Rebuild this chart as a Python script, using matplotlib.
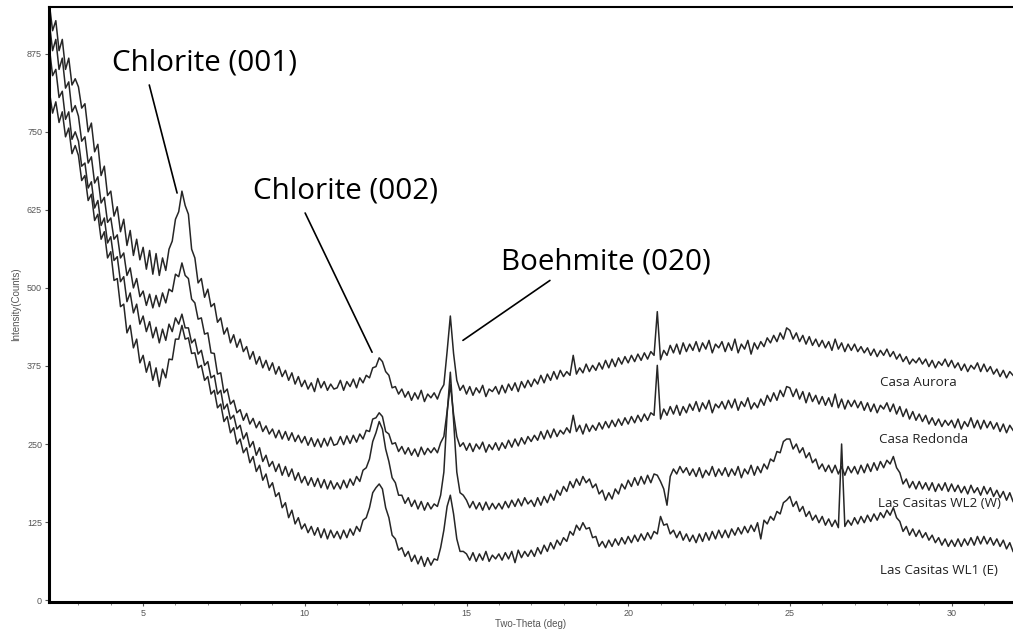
import numpy as np
import matplotlib
matplotlib.use("Agg")
import matplotlib.pyplot as plt
from matplotlib.ticker import MultipleLocator

# 2-theta grid of the scans (deg), 0.1 deg step from 2.1 to 31.9
two_theta = np.arange(21, 320) / 10.0

# Intensity (counts), one row per degree
casa_aurora = [
    955, 912, 928, 880, 898, 850, 868, 825, 835,
    822, 788, 795, 750, 764, 718, 730, 680, 695, 648,
    655, 615, 630, 590, 610, 568, 592, 552, 578, 545,
    565, 530, 560, 522, 555, 520, 548, 528, 562, 575,
    610, 622, 655, 632, 618, 562, 548, 508, 515, 485,
    498, 470, 475, 445, 452, 426, 436, 412, 425, 405,
    418, 398, 406, 386, 398, 378, 390, 372, 384, 368,
    380, 362, 374, 358, 368, 352, 364, 346, 358, 342,
    352, 338, 348, 334, 355, 340, 350, 336, 346, 338,
    340, 352, 336, 350, 342, 354, 340, 356, 348, 360,
    356, 372, 374, 388, 382, 366, 360, 340, 342, 330,
    338, 325, 334, 320, 332, 322, 336, 318, 330, 324,
    332, 322, 336, 345, 398, 455, 395, 352, 336, 344,
    330, 342, 328, 340, 332, 344, 326, 338, 334, 342,
    330, 344, 332, 346, 336, 348, 334, 350, 340, 352,
    342, 354, 346, 360, 348, 362, 352, 366, 354, 368,
    358, 366, 360, 392, 362, 372, 364, 378, 366, 376,
    368, 380, 370, 384, 372, 386, 374, 388, 378, 390,
    380, 392, 382, 394, 384, 396, 386, 398, 392, 462,
    385, 400, 392, 408, 396, 410, 394, 412, 398, 410,
    400, 414, 398, 412, 402, 416, 396, 410, 404, 414,
    398, 412, 400, 418, 396, 410, 402, 416, 394, 412,
    402, 414, 406, 420, 412, 424, 414, 428, 418, 436,
    432, 418, 428, 414, 424, 410, 422, 408, 418, 406,
    416, 404, 414, 400, 418, 402, 412, 398, 410, 400,
    410, 398, 406, 396, 404, 392, 402, 390, 400, 392,
    402, 390, 398, 386, 394, 382, 390, 378, 386, 380,
    388, 378, 386, 374, 384, 372, 382, 376, 386, 374,
    384, 372, 380, 368, 378, 366, 376, 370, 380, 366,
    378, 366, 374, 362, 370, 358, 368, 356, 366, 360,
]

casa_redonda = [
    925, 880, 898, 850, 868, 820, 830, 782, 792,
    775, 735, 742, 700, 710, 668, 678, 636, 645, 605,
    612, 578, 585, 548, 556, 520, 532, 500, 515, 486,
    495, 472, 490, 468, 488, 470, 492, 476, 498, 494,
    522, 518, 540, 520, 515, 482, 476, 450, 452, 426,
    428, 396, 395, 362, 364, 332, 338, 314, 320, 300,
    305, 288, 299, 282, 291, 276, 286, 270, 279, 266,
    274, 260, 272, 258, 270, 256, 268, 254, 264, 252,
    262, 248, 260, 246, 258, 245, 259, 247, 261, 248,
    250, 262, 249, 263, 251, 264, 253, 266, 258, 272,
    270, 290, 292, 300, 294, 270, 266, 250, 252, 238,
    246, 234, 244, 232, 242, 230, 245, 233, 243, 236,
    244, 236, 252, 262, 302, 345, 298, 262, 246, 252,
    240, 251, 238, 250, 242, 253, 237, 249, 241, 252,
    240, 252, 243, 256, 245, 258, 247, 260, 250, 262,
    254, 264, 256, 270, 258, 272, 260, 274, 262, 272,
    266, 276, 268, 296, 270, 280, 266, 282, 270, 280,
    272, 284, 274, 286, 276, 288, 278, 290, 280, 292,
    282, 294, 284, 296, 286, 298, 288, 300, 296, 376,
    290, 306, 296, 310, 298, 312, 296, 310, 300, 314,
    304, 318, 302, 316, 306, 320, 300, 314, 308, 318,
    306, 320, 308, 322, 304, 318, 310, 324, 306, 316,
    308, 322, 312, 328, 318, 332, 320, 336, 326, 342,
    340, 326, 338, 322, 334, 316, 332, 318, 328, 314,
    326, 312, 324, 310, 330, 308, 322, 306, 320, 310,
    320, 308, 318, 304, 316, 302, 314, 300, 312, 306,
    316, 302, 314, 298, 310, 294, 306, 290, 302, 288,
    298, 286, 296, 282, 292, 280, 290, 278, 288, 280,
    288, 276, 290, 274, 286, 278, 292, 276, 288, 274,
    288, 276, 286, 274, 284, 270, 282, 268, 280, 272,
]

casitas_wl2 = [
    885, 840, 850, 805, 815, 770, 782, 738, 750,
    735, 695, 700, 660, 670, 628, 640, 600, 612, 572,
    582, 544, 550, 510, 518, 478, 492, 460, 474, 442,
    455, 430, 446, 420, 437, 412, 434, 416, 442, 430,
    452, 442, 458, 436, 436, 412, 418, 394, 400, 376,
    382, 356, 360, 330, 336, 306, 314, 290, 296, 274,
    280, 258, 268, 245, 254, 232, 244, 222, 232, 214,
    222, 206, 218, 200, 214, 198, 210, 192, 204, 188,
    198, 184, 196, 182, 195, 180, 193, 178, 191, 178,
    188, 178, 192, 180, 194, 184, 198, 190, 208, 212,
    226, 254, 268, 286, 274, 242, 222, 196, 188, 168,
    168, 155, 164, 150, 160, 146, 158, 144, 156, 146,
    154, 150, 168, 205, 298, 365, 288, 205, 172, 168,
    160, 148, 158, 146, 156, 144, 157, 145, 155, 146,
    155, 146, 158, 148, 160, 150, 162, 151, 164, 154,
    160, 150, 164, 152, 166, 156, 170, 160, 176, 168,
    182, 174, 190, 180, 194, 184, 198, 188, 194, 180,
    186, 170, 176, 160, 172, 162, 178, 170, 186, 178,
    192, 182, 196, 184, 198, 186, 200, 188, 202, 200,
    190, 178, 152, 198, 210, 202, 214, 204, 212, 200,
    210, 198, 212, 196, 208, 200, 214, 198, 210, 200,
    212, 198, 210, 200, 214, 196, 210, 202, 216, 200,
    214, 204, 218, 210, 226, 222, 238, 236, 254, 258,
    258, 242, 250, 236, 244, 228, 236, 220, 226, 210,
    218, 206, 216, 204, 216, 202, 214, 200, 214, 204,
    214, 202, 216, 204, 218, 206, 220, 208, 222, 212,
    224, 218, 230, 212, 204, 186, 194, 180, 190, 178,
    190, 178, 188, 176, 188, 174, 186, 176, 188, 174,
    186, 174, 184, 172, 182, 170, 184, 172, 180, 168,
    182, 170, 180, 166, 176, 164, 174, 160, 172, 158,
]

casitas_wl1 = [
    815, 780, 798, 765, 782, 742, 756, 715, 728,
    712, 672, 680, 640, 650, 608, 618, 578, 590, 548,
    558, 512, 515, 470, 474, 428, 440, 404, 418, 380,
    392, 365, 382, 352, 372, 342, 370, 356, 386, 385,
    418, 418, 440, 418, 420, 395, 396, 372, 376, 352,
    358, 330, 336, 308, 314, 286, 294, 268, 276, 250,
    258, 236, 244, 220, 230, 206, 216, 192, 202, 180,
    188, 166, 172, 148, 156, 132, 144, 122, 132, 114,
    122, 108, 118, 104, 116, 100, 114, 98, 112, 100,
    110, 98, 112, 100, 114, 104, 118, 110, 128, 132,
    148, 172, 180, 186, 178, 148, 132, 104, 98, 80,
    84, 70, 78, 62, 72, 58, 70, 54, 68, 56,
    66, 64, 84, 112, 150, 168, 138, 98, 78, 78,
    74, 64, 76, 62, 74, 64, 78, 62, 72, 66,
    74, 64, 76, 66, 78, 60, 80, 68, 78, 70,
    80, 70, 84, 74, 88, 78, 92, 82, 96, 88,
    100, 94, 110, 104, 120, 112, 124, 114, 116, 100,
    102, 86, 94, 84, 96, 86, 98, 88, 100, 90,
    102, 92, 104, 94, 106, 96, 108, 98, 110, 106,
    134, 120, 122, 106, 112, 100, 110, 96, 106, 94,
    104, 92, 106, 94, 108, 96, 110, 98, 112, 100,
    112, 100, 114, 104, 116, 106, 118, 108, 120, 110,
    124, 98, 128, 122, 134, 128, 142, 138, 156, 160,
    166, 150, 158, 142, 150, 134, 142, 128, 136, 124,
    134, 120, 130, 118, 128, 116, 250, 118, 128, 120,
    132, 122, 134, 124, 136, 126, 138, 128, 140, 132,
    144, 136, 148, 132, 126, 110, 118, 104, 114, 102,
    112, 100, 108, 96, 104, 92, 100, 88, 98, 86,
    96, 86, 98, 86, 98, 88, 100, 88, 102, 90,
    102, 90, 100, 88, 98, 86, 96, 82, 92, 78,
]

series_names = ["Casa Aurora", "Casa Redonda", "Las Casitas WL2 (W)", "Las Casitas WL1 (E)"]
series_values = [casa_aurora, casa_redonda, casitas_wl2, casitas_wl1]
# where each sample name sits (2-theta, counts)
name_positions = [(27.78, 349), (27.75, 258), (27.72, 154), (27.80, 48)]

# peak callouts: text, text centre, line start, line end (2-theta, counts)
peak_labels = ["Chlorite (001)", "Chlorite (002)", "Boehmite (020)"]
peak_text_xy = [(6.89, 860), (11.27, 655), (19.31, 541)]
peak_line_from = [(5.19, 825), (10.01, 620), (17.58, 512)]
peak_line_to = [(6.05, 652), (12.08, 397), (14.89, 416)]

fig = plt.figure(figsize=(10.13, 6.32), dpi=100)
ax = fig.add_axes([0.0484, 0.0475, 0.9516, 0.9415])

for name, vals in zip(series_names, series_values):
    ax.plot(two_theta, vals, color="#262626", lw=1.1)

for name, (tx, ty) in zip(series_names, name_positions):
    ax.text(tx, ty, name, fontsize=9.6, family="Open Sans", color="#222222",
            va="center", ha="left")

for lab, txy, p0, p1 in zip(peak_labels, peak_text_xy, peak_line_from, peak_line_to):
    ax.text(txy[0], txy[1], lab, fontsize=21.3, family="Open Sans",
            ha="center", va="center", color="black")
    ax.annotate("", xy=p1, xytext=p0,
                arrowprops=dict(arrowstyle="-", color="black", lw=1.2,
                                shrinkA=0, shrinkB=0))

ax.set_xlim(2.09, 31.9)
ax.set_ylim(-3, 950)
ax.set_yticks(np.arange(0, 876, 125))
ax.xaxis.set_major_locator(MultipleLocator(5))
ax.xaxis.set_minor_locator(MultipleLocator(1))

ax.tick_params(axis="both", which="major", direction="out", length=3,
               width=0.8, colors="#555555", labelsize=6.5, pad=2)
ax.tick_params(axis="x", which="minor", direction="out", length=2,
               width=0.6, colors="#777777")
for lbl in ax.get_xticklabels() + ax.get_yticklabels():
    lbl.set_family("Liberation Sans")

ax.set_xlabel("Two-Theta (deg)", fontsize=7, color="#555555",
              family="Liberation Sans", labelpad=1)
ax.set_ylabel("Intensity(Counts)", fontsize=7, color="#555555",
              family="Liberation Sans", labelpad=4)

ax.spines["left"].set_linewidth(2.2)
ax.spines["bottom"].set_linewidth(2.2)
ax.spines["top"].set_linewidth(1.5)
ax.spines["right"].set_visible(False)
for s in ["left", "bottom", "top"]:
    ax.spines[s].set_color("black")

fig.savefig("out.png", dpi=100)
